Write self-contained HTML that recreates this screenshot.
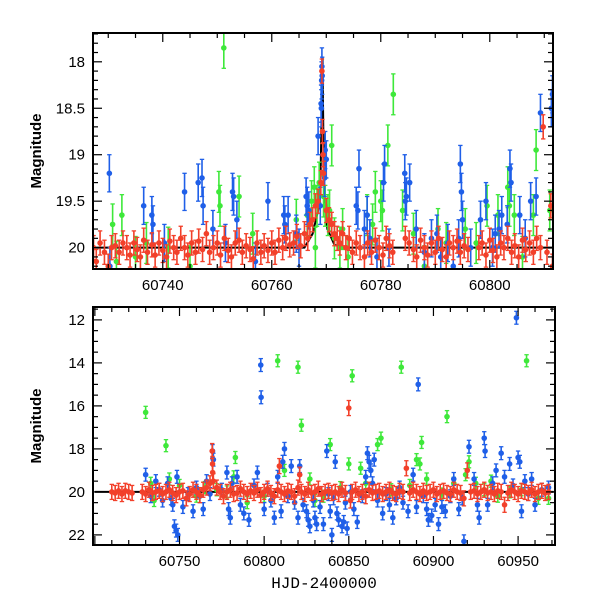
<!DOCTYPE html>
<html><head><meta charset="utf-8"><style>
html,body{margin:0;padding:0;background:#fff}
svg{display:block}
text{font-family:"Liberation Sans",sans-serif;font-size:15px;fill:#000}
</style></head><body>
<svg id="chart" width="600" height="600"></svg>
<script>
// ---------- data (time offsets from 60700, magnitudes) ----------
const topRedT=[27.3,27.8,28.5,29.3,30.0,30.6,31.3,32.0,32.7,33.4,34.0,34.7,35.3,35.9,36.5,37.2,38.0,38.6,39.3,40.0,40.7,41.3,42.0,42.6,43.3,44.0,44.6,45.3,46.0,46.6,47.3,48.0,48.6,49.3,50.0,50.6,51.3,52.0,52.6,53.3,54.0,54.6,55.3,56.0,56.6,57.3,58.0,58.6,59.3,60.0,60.6,61.3,62.0,62.6,63.3,64.0,64.6,65.3,66.0,66.6,67.0,67.5,68.0,68.5,69.0,69.2,69.3,69.4,69.5,70.0,70.5,71.0,71.5,72.0,72.5,73.0,73.6,74.2,74.8,75.5,76.2,77.0,77.6,78.3,79.0,79.7,80.4,81.0,81.6,82.2,84.5,85.2,86.0,86.6,87.3,88.0,88.6,89.3,90.0,90.6,91.3,92.0,92.6,93.3,94.0,94.6,95.3,96.0,98.0,98.6,99.3,100.0,100.6,101.3,102.0,102.6,103.3,104.0,104.6,105.3,106.0,106.6,107.3,108.0,108.6,109.3,109.8,110.5,111.2,111.5];
const topRedM=[20.0,20.15,19.95,20.05,20.2,20.0,19.98,20.05,19.95,20.0,20.08,19.95,20.02,20.1,19.92,20.05,19.97,20.08,19.95,20.03,20.1,19.93,20.0,20.05,19.9,20.0,20.08,19.95,20.05,19.93,20.02,19.85,20.05,20.0,19.95,20.08,19.9,20.03,20.1,19.95,19.92,20.05,19.98,20.02,20.12,19.95,20.05,19.98,20.03,19.95,20.05,19.92,20.0,19.9,19.97,19.95,19.88,19.98,19.85,19.9,19.75,19.7,19.55,19.5,19.3,18.1,18.75,19.0,19.2,19.6,19.7,19.75,19.85,19.9,19.95,19.85,20.0,19.9,20.05,19.95,20.0,20.1,19.95,20.05,19.92,20.0,20.08,19.9,19.98,20.05,19.9,19.95,20.02,20.1,19.92,20.0,20.08,19.95,20.05,19.9,20.02,20.1,19.95,20.0,19.93,20.05,19.98,20.02,20.0,19.95,20.08,19.92,20.03,20.1,19.95,20.0,19.9,20.05,19.98,20.1,19.92,20.02,19.95,20.05,19.9,20.0,18.7,20.05,19.55,20.2];
const topBlueT=[30.2,30.3,36.5,38.0,38.2,40.3,44.0,46.5,47.2,47.4,49.2,51.5,52.8,53.0,53.6,57.0,59.3,62.2,62.4,63.0,64.5,65.0,66.3,66.5,66.8,68.5,68.9,69.05,69.1,69.15,69.2,69.25,69.7,69.8,70.0,75.5,75.8,76.0,77.0,77.5,78.0,79.3,80.5,80.7,81.5,84.4,84.5,84.7,85.3,86.5,88.0,89.3,90.3,91.0,92.3,93.3,94.3,94.6,94.8,95.0,96.5,98.3,99.3,100.5,101.0,101.7,102.2,103.2,103.7,103.9,105.5,106.5,107.5,108.5,109.3,111.3,111.5];
const topBlueM=[19.2,20.2,19.55,19.65,19.75,19.95,19.4,19.3,19.25,19.55,19.8,19.95,19.4,19.45,19.7,20.15,19.5,19.65,19.75,19.65,19.85,20.0,19.45,19.55,19.6,18.8,19.55,18.45,18.5,18.2,18.05,18.15,19.25,18.95,19.05,19.55,19.6,19.15,19.8,19.65,19.9,20.1,19.3,19.1,20.0,19.2,19.5,19.45,19.3,19.8,20.05,19.9,19.85,20.1,19.95,20.2,19.9,19.1,19.4,19.7,20.0,19.7,19.5,20.0,19.85,19.8,19.65,19.75,19.15,19.3,19.65,19.9,19.5,19.45,18.55,18.5,18.35];
const topGreenT=[30.8,31.5,32.5,35.0,37.0,41.0,45.0,50.3,50.5,51.2,54.0,56.5,64.5,66.5,67.3,67.8,68.0,68.3,68.7,69.5,69.8,70.3,70.6,71.0,71.5,72.5,73.0,74.0,77.5,78.5,79.0,80.0,80.3,81.3,82.3,84.0,86.0,88.0,90.5,92.0,95.5,97.5,99.5,101.5,103.3,103.6,104.5,106.0,108.0,108.5,111.0];
const topGreenM=[19.75,20.15,19.65,20.1,19.95,20.0,20.2,19.4,19.55,17.85,19.45,19.85,19.7,19.65,19.5,19.35,20.0,19.55,19.3,19.45,19.55,19.65,19.6,18.9,19.9,20.0,19.8,20.1,19.65,19.75,19.4,19.5,19.6,18.9,18.35,19.6,19.85,20.2,19.8,19.95,19.8,19.95,19.55,19.65,19.35,19.55,19.65,20.1,19.65,18.95,19.6];
const botRedT=[10,12,14,16,18,20,22,28,30,32,34,36,38,40,42,44,46,48,50,52,54,56,58,60,62,64,66,68,69.3,69.5,69.6,70,72,74,76,78,80,82,84,86,88,90,92,94,96,98,100,102,104,106,108,109,110,112,114,116,118,120,121,122,124,126,128,130,132,134,136,138,140,142,144,146,148,150,151,152,154,156,158,160,162,164,166,168,170,172,174,176,178,180,182,184,186,188,190,192,194,196,198,200,202,204,206,208,210,212,214,216,218,220,222,224,226,228,230,232,234,236,238,240,242,244,246,248,250,252,254,256,258,260,262,264,266,268];
const botRedM=[20.0,20.05,19.95,20.1,19.95,20.0,20.05,20.0,20.1,19.9,20.05,20.0,19.95,20.1,20.0,19.9,20.05,20.15,20.0,19.95,20.3,20.1,19.9,20.0,20.15,19.9,19.8,19.6,18.1,18.7,19.1,19.5,19.8,20.0,20.2,20.0,19.9,20.1,20.05,19.85,20.0,20.1,19.95,20.05,19.9,20.15,20.0,19.85,20.05,20.2,19.9,18.8,20.0,20.1,19.95,20.0,20.2,19.8,19.2,20.0,20.1,19.9,20.05,20.0,19.85,20.1,20.0,19.95,20.05,20.0,20.1,19.9,20.05,16.1,20.4,20.0,19.9,20.1,20.0,20.2,19.9,20.05,20.0,19.95,20.1,20.0,19.9,20.05,20.1,19.95,20.0,18.9,20.05,19.9,20.0,20.1,19.95,20.05,20.0,19.9,20.1,20.0,19.95,20.05,20.1,19.9,20.0,20.05,20.3,19.0,20.0,19.95,20.1,20.0,19.9,20.05,20.0,20.1,19.95,20.0,20.6,20.05,19.9,20.0,20.1,19.95,20.0,20.05,19.9,20.1,20.0,19.95,20.05,20.0];
const botBlueT=[30,33,36,38,40,43,45,46,47,48,48.5,49,52,55,58,60,62,64,66,68,69.5,70,75,78,79,80,81,84,86,88,91,94,96,98,98.2,100,102,104,106,108,110,111,112,114,116,118,120,121,123,125,126,127,129,130,131,133,135,137,138,139,140,141,142,143,144,146,147,148,149,151,153,155,158,160,161,162,163,164,165,167,170,172,174,176,178,180,182,185,188,190,191,194,196,197,199,201,203,205,207,210,212,215,217,218,221,224,226,227,230,230.5,232,235,237,240,242,245,247,249,250,251,252,254,256,258,260,264,268];
const botBlueM=[19.2,20.2,19.5,19.9,20.4,19.6,20.3,20.6,21.6,21.8,19.3,22.0,20.7,20.1,20.9,19.8,20.2,20.8,19.5,20.1,18.1,18.5,19.9,19.1,20.8,21.2,19.6,19.3,20.6,21.0,21.3,19.7,19.1,14.1,15.6,20.8,19.9,20.4,21.2,19.3,20.9,18.6,18.0,20.2,18.8,20.5,21.2,18.8,20.6,20.9,21.3,21.6,20.4,21.2,21.5,20.7,21.5,18.1,20.1,20.9,22.0,20.3,18.6,21.0,21.3,21.6,21.4,20.5,21.7,20.0,20.8,21.4,20.2,19.3,18.2,18.6,19.0,19.6,18.5,20.4,21.0,20.1,20.6,21.2,20.3,19.8,20.5,20.9,19.2,20.7,15.0,20.2,20.8,21.3,21.1,20.6,21.5,20.7,20.9,20.2,19.4,20.8,20.3,22.3,17.9,19.4,20.6,21.2,17.5,18.1,20.6,19.6,19.0,18.2,19.3,18.7,19.7,11.9,18.4,18.6,20.9,19.5,20.1,19.4,20.6,19.9,19.8];
const botGreenT=[30,33,35,42,44,50,60,65,72,78,82,83,90,100,108,112,120,122,127,130,135,139,145,150,152,157,160,167,169,175,181,186,190,192,193,196,205,208,212,219,221,225,230,234,238,245,252,255,262,268];
const botGreenM=[16.3,19.6,20.4,17.85,19.4,19.7,20.2,19.8,19.9,20.0,19.3,18.4,20.5,20.2,13.9,19.0,14.2,16.9,19.4,20.4,20.2,17.8,19.8,18.7,14.6,18.9,19.6,17.8,17.5,19.9,14.2,19.7,18.5,18.7,17.7,19.4,20.1,16.5,19.6,19.2,18.6,19.6,19.9,19.5,20.2,20.0,19.9,13.9,20.3,20.3];
const errTop={red:0.13,blue:0.2,green:0.22};
const errBot={red:0.35,blue:0.3,green:0.28};
const topXTicks=[60740,60760,60780,60800];
const topYTicks=[18,18.5,19,19.5,20];
const botXTicks=[60750,60800,60850,60900,60950];
const botYTicks=[12,14,16,18,20,22];
const T0=60700;

const NS='http://www.w3.org/2000/svg';
const svg=document.getElementById('chart');
function el(tag,attrs,parent){const e=document.createElementNS(NS,tag);for(const k in attrs)e.setAttribute(k,attrs[k]);(parent||svg).appendChild(e);return e;}
const COL={red:'#f2402a',blue:'#1f5fe8',green:'#3ee83a'};

function panel(name,box,xr,yr,xMaj,xMin,yMaj,yMin,xTicks,yTicks,series,err,model,xlabel){
  const g=el('g',{});
  
  
  const X=v=>box.x+(v-xr[0])/(xr[1]-xr[0])*box.w;
  const Y=v=>box.y+(v-yr[0])/(yr[1]-yr[0])*box.h;
  const cp='clip-'+name;
  const defs=el('defs',{},g);const c=el('clipPath',{id:cp},defs);el('rect',{x:box.x,y:box.y,width:box.w,height:box.h},c);
  const pg=el('g',{'clip-path':'url(#'+cp+')'},g);
  
  
  const ml=el('polyline',{points:model.map(p=>X(p[0])+','+Y(p[1])).join(' '),fill:'none',stroke:'#000','stroke-width':2},pg);
  
  
  ['green','blue','red'].forEach(s=>{
    const sg=el('g',{},pg);
    
    
    const ts=series[s][0],ms=series[s][1],e=err[s];
    for(let i=0;i<ts.length;i++){
      const x=X(T0+ts[i]),y=Y(ms[i]),y1=Y(ms[i]-e),y2=Y(ms[i]+e);
      el('line',{x1:x,x2:x,y1:y1,y2:y2,stroke:COL[s],'stroke-width':1.6},sg);
      el('line',{x1:x-2.2,x2:x+2.2,y1:y1,y2:y1,stroke:COL[s],'stroke-width':1.3},sg);
      el('line',{x1:x-2.2,x2:x+2.2,y1:y2,y2:y2,stroke:COL[s],'stroke-width':1.3},sg);
      const pt=el('circle',{cx:x,cy:y,r:2.8,fill:COL[s]},sg);
      
      
    }
  });
  const tg=el('g',{stroke:'#000','stroke-width':1.2},g);
  for(let v=Math.ceil(xr[0]/xMin)*xMin;v<=xr[1];v+=xMin){const x=X(v);const L=(Math.abs(v/xMaj-Math.round(v/xMaj))<1e-6)?9:5;
    el('line',{x1:x,x2:x,y1:box.y+box.h,y2:box.y+box.h-L},tg);el('line',{x1:x,x2:x,y1:box.y,y2:box.y+L},tg);}
  for(let v=Math.ceil(yr[0]/yMin-1e-6)*yMin;v<=yr[1]+1e-9;v+=yMin){const y=Y(v);const L=(Math.abs(v/yMaj-Math.round(v/yMaj))<1e-6)?9:5;
    el('line',{x1:box.x,x2:box.x+L,y1:y,y2:y},tg);el('line',{x1:box.x+box.w,x2:box.x+box.w-L,y1:y,y2:y},tg);}
  const fr=el('rect',{x:box.x,y:box.y,width:box.w,height:box.h,fill:'none',stroke:'#000','stroke-width':2},g);
  
  
  xTicks.forEach(v=>{const t=el('text',{x:X(v),y:box.y+box.h+21,'text-anchor':'middle'},g);t.textContent=v;
    
    });
  yTicks.forEach(v=>{const t=el('text',{x:box.x-8,y:Y(v)+5,'text-anchor':'end'},g);t.textContent=v;
    
    });
  const yl=el('text',{x:0,y:0,'text-anchor':'middle',transform:`translate(${box.x-52},${box.y+box.h/2}) rotate(-90)`,'font-weight':'bold'},g);
  yl.textContent='Magnitude';
  
  
  if(xlabel){const xl=el('text',{x:box.x+box.w/2,y:box.y+box.h+43,'text-anchor':'middle',style:'font-family:"Liberation Mono",monospace;font-size:16px'},g);xl.textContent=xlabel;
    
    }
}
panel('top',{x:93,y:33,w:460,h:236},[60727.2,60811.6],[17.69,20.23],20,5,0.5,0.1,topXTicks,topYTicks,
  {red:[topRedT,topRedM],blue:[topBlueT,topBlueM],green:[topGreenT,topGreenM]},errTop,
  [[60700,20],[60766,20],[60767.5,19.85],[60768.5,19.6],[60768.9,19.45],[60769.3,17.95],[60769.6,19.45],[60770.2,19.8],[60771.5,19.97],[60773,20],[60820,20]],null);
panel('bottom',{x:93,y:307,w:462,h:238},[60698.9,60971.8],[11.4,22.47],50,10,2,0.5,botXTicks,botYTicks,
  {red:[botRedT,botRedM],blue:[botBlueT,botBlueM],green:[botGreenT,botGreenM]},errBot,
  [[60700,20],[60971,20]],'HJD-2400000');
</script>
</body></html>
